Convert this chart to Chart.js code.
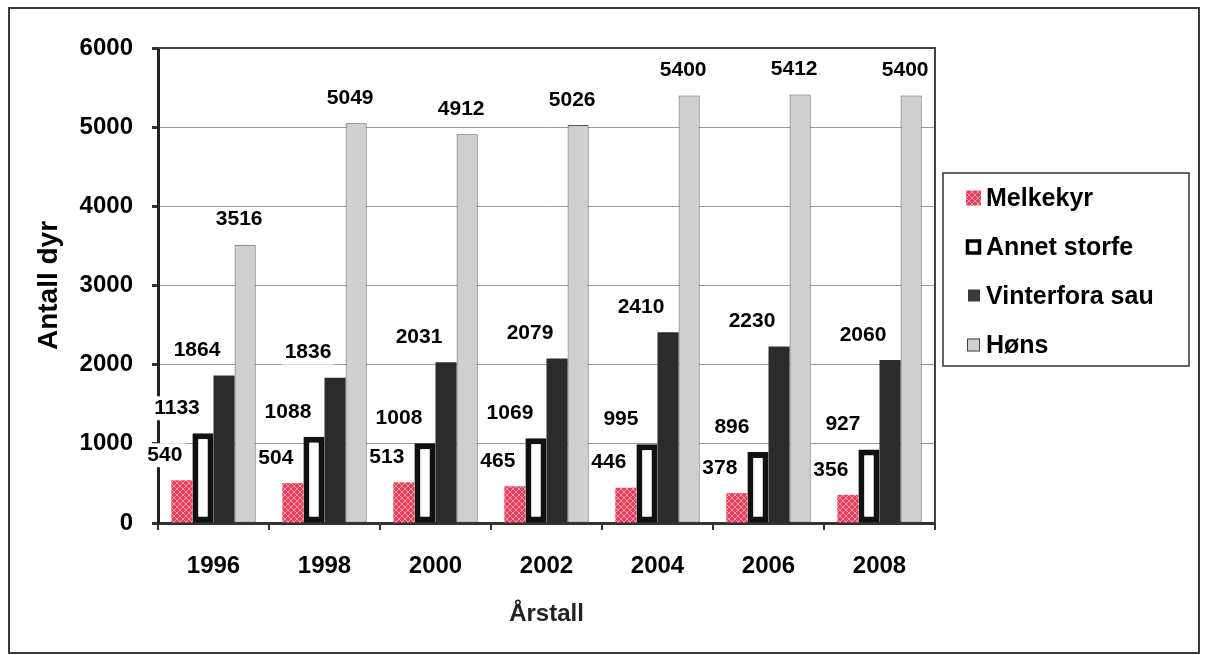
<!DOCTYPE html>
<html>
<head>
<meta charset="utf-8">
<script src="https://cdn.jsdelivr.net/npm/chart.js@4"></script>
<style>
  body { margin: 0; background: #fff; }
  #wrap { position: relative; width: 1210px; height: 655px; }
  #frame { position: absolute; left: 8px; top: 7px; width: 1188px; height: 643px; border: 2px solid #3a3a3a; pointer-events: none; }
  canvas { position: absolute; left: 0; top: 0; }
</style>
</head>
<body>
<div id="wrap">
  <canvas id="chart" width="1210" height="655"></canvas>
  <div id="frame"></div>
</div>
<script>
// values
const years = ["1996", "1998", "2000", "2002", "2004", "2006", "2008"];
const melkekyr = [540, 504, 513, 465, 446, 378, 356];
const annetStorfe = [1133, 1088, 1008, 1069, 995, 896, 927];
const vinterforaSau = [1864, 1836, 2031, 2079, 2410, 2230, 2060];
const hons = [3516, 5049, 4912, 5026, 5400, 5412, 5400];
const yTicks = [0, 1000, 2000, 3000, 4000, 5000, 6000];

const FONT = "'Liberation Sans', Arial, sans-serif";

// red cross-hatch pattern for Melkekyr
function makePattern() {
  const p = document.createElement("canvas");
  p.width = 6; p.height = 6;
  const c = p.getContext("2d");
  c.fillStyle = "#ea3f5c";
  c.fillRect(0, 0, 6, 6);
  c.strokeStyle = "#f59aa6";
  c.lineWidth = 1;
  c.beginPath();
  c.moveTo(0, 0); c.lineTo(6, 6);
  c.moveTo(6, 0); c.lineTo(0, 6);
  c.stroke();
  return document.getElementById("chart").getContext("2d").createPattern(p, "repeat");
}
const redPattern = makePattern();

// where each series' value label sits relative to its bar
const labelShift = [-17, -26, -27, -6];

const labelPlugin = {
  id: "barLabels",
  beforeDatasetsDraw(chart) {
    const ctx = chart.ctx;
    ctx.save();
    ctx.font = "bold 21px " + FONT;
    ctx.textAlign = "center";
    ctx.textBaseline = "middle";
    chart.data.datasets.forEach((ds, i) => {
      chart.getDatasetMeta(i).data.forEach((bar, j) => {
        const txt = String(ds.data[j]);
        const x = bar.x + labelShift[i];
        const y = bar.y - 25;
        const w = ctx.measureText(txt).width + 6;
        ctx.fillStyle = "#fff";
        ctx.fillRect(x - w / 2, y - 12, w, 24);
        ctx.fillStyle = "#000";
        ctx.fillText(txt, x, y);
      });
    });
    ctx.restore();
  },
  afterDatasetsDraw(chart) {
    const ctx = chart.ctx;
    const a = chart.chartArea;
    ctx.save();
    // plot area border (top and right)
    ctx.strokeStyle = "#444";
    ctx.lineWidth = 2;
    ctx.beginPath();
    ctx.moveTo(a.left, a.top);
    ctx.lineTo(a.right, a.top);
    ctx.lineTo(a.right, a.bottom);
    ctx.stroke();

    // legend
    const lx = 943, ly = 173, lw = 246, lh = 193;
    ctx.fillStyle = "#fff";
    ctx.fillRect(lx, ly, lw, lh);
    ctx.strokeStyle = "#333";
    ctx.lineWidth = 1.5;
    ctx.strokeRect(lx, ly, lw, lh);
    ctx.font = "bold 25px " + FONT;
    ctx.textBaseline = "middle";
    ctx.textAlign = "left";
    const names = chart.data.datasets.map((d) => d.label);
    names.forEach((name, i) => {
      const cy = ly + 25 + i * 49;
      const sx = 966, s = 15;
      if (i === 0) {
        ctx.fillStyle = redPattern;
        ctx.fillRect(sx, cy - s / 2, s, s);
      } else if (i === 1) {
        ctx.fillStyle = "#fff";
        ctx.fillRect(sx, cy - s / 2, s, s);
        ctx.strokeStyle = "#000";
        ctx.lineWidth = 3.5;
        ctx.strokeRect(sx + 1.5, cy - s / 2 + 1.5, s - 3, s - 3);
      } else if (i === 2) {
        ctx.fillStyle = "#3a3a3a";
        ctx.fillRect(sx + 2, cy - s / 2 + 1, s - 3, s - 3);
      } else {
        ctx.fillStyle = "#cfcfcf";
        ctx.fillRect(sx + 1, cy - s / 2 + 1, s - 2, s - 2);
        ctx.strokeStyle = "#444";
        ctx.lineWidth = 1;
        ctx.strokeRect(sx + 1.5, cy - s / 2 + 1.5, s - 3, s - 3);
      }
      ctx.fillStyle = "#000";
      ctx.fillText(name, 986, cy + 1);
    });
    ctx.restore();
  },
};

new Chart(document.getElementById("chart"), {
  type: "bar",
  data: {
    labels: years,
    datasets: [
      { label: "Melkekyr", data: melkekyr, backgroundColor: redPattern, borderWidth: 0 },
      { label: "Annet storfe", data: annetStorfe, backgroundColor: "#fff", borderColor: "#111", borderWidth: 6, borderSkipped: false },
      { label: "Vinterfora sau", data: vinterforaSau, backgroundColor: "#2b2b2b", borderWidth: 0 },
      { label: "Høns", data: hons, backgroundColor: "#cfcfcf", borderColor: "#555", borderWidth: 1, borderSkipped: false },
    ],
  },
  options: {
    responsive: false,
    animation: false,
    devicePixelRatio: 1,
    layout: { padding: { top: 48, left: 28, right: 275, bottom: 22 } },
    datasets: { bar: { categoryPercentage: 0.76, barPercentage: 1 } },
    plugins: { legend: { display: false }, tooltip: { enabled: false } },
    scales: {
      x: {
        grid: { display: true, drawOnChartArea: false, drawTicks: true, tickLength: 7, color: "#333", lineWidth: 2, offset: true },
        border: { display: true, color: "#333", width: 3 },
        ticks: { color: "#000", font: { family: FONT, size: 24, weight: "bold" }, padding: 22 },
        title: { display: true, text: "Årstall", color: "#222", font: { family: FONT, size: 24, weight: "bold" }, padding: { top: 12 } },
        afterFit(scale) { scale.height = 110; },
      },
      y: {
        min: 0,
        max: 6000,
        afterBuildTicks(scale) { scale.ticks = yTicks.map((v) => ({ value: v })); },
        grid: { color: "#9a9a9a", lineWidth: 1, tickLength: 6, tickColor: "#333", tickWidth: 3 },
        border: { display: true, color: "#222", width: 3 },
        ticks: { color: "#000", font: { family: FONT, size: 24, weight: "bold" }, padding: 19, callback: (v) => String(v) },
        title: { display: true, text: "Antall dyr", color: "#000", font: { family: FONT, size: 28, weight: "bold" }, padding: { bottom: 0 } },
        afterFit(scale) { scale.width = 130; },
      },
    },
  },
  plugins: [labelPlugin],
});
</script>
</body>
</html>
